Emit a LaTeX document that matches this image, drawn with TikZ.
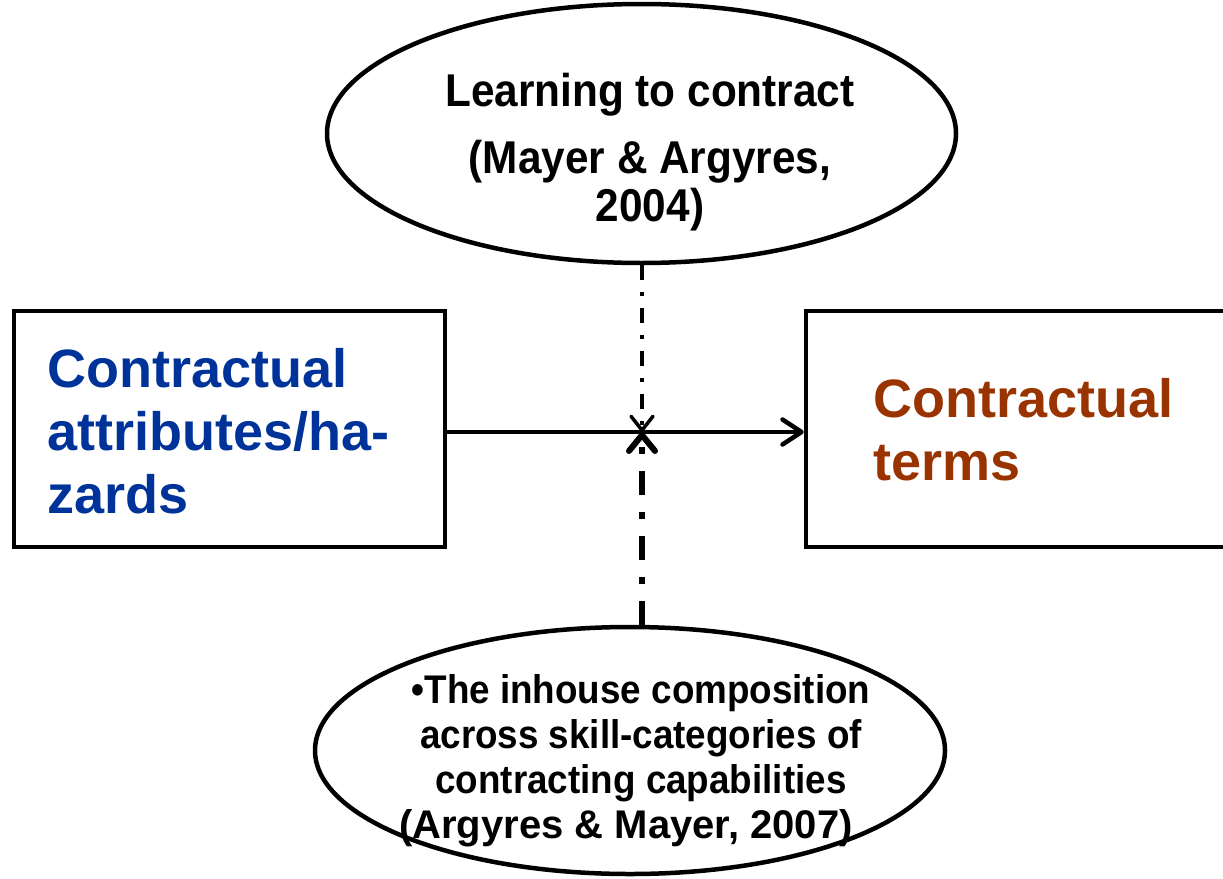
\documentclass[tikz,border=0pt]{standalone}
\usepackage{fontspec}
\setmainfont{Liberation Sans}
\newfontfamily\condfont{Liberation Sans}[FakeStretch=0.92]
\newfontfamily\plainfont{Liberation Sans}
\usetikzlibrary{shapes.geometric,arrows.meta}
\definecolor{boxblue}{HTML}{003399}
\definecolor{boxbrown}{HTML}{993300}
\tikzset{
  oval/.style={draw, ellipse, line width=4.5pt, inner sep=0pt},
  box/.style={draw, rectangle, line width=4.5pt, inner sep=0pt},
  boxtext/.style={anchor=base west, align=left, inner sep=0pt,
    font=\fontsize{54}{63}\selectfont\bfseries},
  ovaltext/.style={anchor=base, align=center, inner sep=0pt},
  mainarrow/.style={line width=4.5pt, -{Straight Barb[round,length=19pt,width=25pt]}},
  modthin/.style={line width=3.5pt, dash pattern=on 15pt off 12pt on 4pt off 12pt,
    -{Straight Barb[round,length=14pt,width=22pt]}},
  modthick/.style={line width=6pt, dash pattern=on 24pt off 17pt on 7pt off 17pt,
    -{Straight Barb[round,length=16pt,width=26pt]}}
}
\begin{document}
\begin{tikzpicture}[x=1pt,y=-1pt]
\useasboundingbox (0,0) rectangle (1223,878);
\clip (0,0) rectangle (1223,878);
% ellipses
\node[oval, minimum width=629pt, minimum height=259pt] (e1) at (641.5,133.5) {};
\node[oval, minimum width=630pt, minimum height=247pt] (e2) at (630,750.5) {};
% boxes
\node[box, minimum width=431pt, minimum height=236pt] (lbox) at (229.5,429) {};
\node[box, minimum width=424pt, minimum height=236pt] (rbox) at (1018,429) {};
% texts (anchor base = baseline of the last line)
\node[ovaltext, font=\condfont\fontsize{46}{48}\selectfont\bfseries] (t1) at (650,221)
  {Learning to contract\\[19pt](Mayer \& Argyres,\\2004)};
\node[ovaltext, font=\condfont\fontsize{40}{45}\selectfont\bfseries] (t2) at (641,838)
  {\textbullet The inhouse composition\\across skill-categories of\\contracting capabilities\\{\plainfont\bfseries (Argyres \& Mayer, 2007)}\hspace*{30pt}};
\node[boxtext, text=boxblue] (lt) at (47,513) {Contractual\\attributes/ha-\\zards};
\node[boxtext, text=boxbrown] (rt) at (873,480) {Contractual\\terms};
% connectors
\coordinate (cross) at (642,432);
\draw[mainarrow] (lbox.east |- cross) -- (rbox.west |- cross);
\draw[modthin] (e1.south -| cross) -- (cross);
\draw[modthick] (e2.north -| cross) -- (cross);
\end{tikzpicture}
\end{document}
